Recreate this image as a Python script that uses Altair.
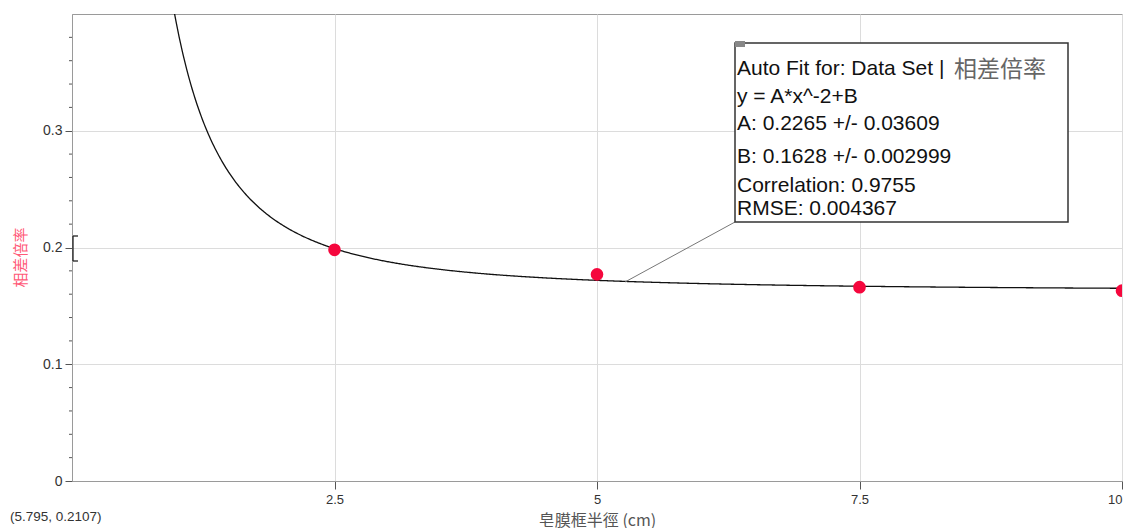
import altair as alt
import pandas as pd

# data
radius_cm = [2.5, 5, 7.5, 10]
ratio = [0.198, 0.177, 0.166, 0.163]
fit_A = 0.2265
fit_B = 0.1628
x_ticks = [2.5, 5, 7.5, 10]
y_major = [0, 0.1, 0.2, 0.3]
y_minor = [0.02, 0.04, 0.06, 0.08, 0.12, 0.14, 0.16, 0.18,
           0.22, 0.24, 0.26, 0.28, 0.32, 0.34, 0.36, 0.38]
box_lines = [
    "Auto Fit for: Data Set | ",
    "y = A*x^-2+B",
    "A: 0.2265 +/- 0.03609",
    "B: 0.1628 +/- 0.002999",
    "Correlation: 0.9755",
    "RMSE: 0.004367",
]
box_y = [61, 89, 116, 149, 178, 201]
FONT = "Liberation Sans"

pts = pd.DataFrame({"x": radius_cm, "y": ratio})
minor_df = pd.DataFrame({"y": y_minor})

xscale = alt.Scale(domain=[0, 10], nice=False, zero=False)
yscale = alt.Scale(domain=[0, 0.4], nice=False, zero=False)

xaxis = alt.Axis(
    values=x_ticks, format="~g", title="皂膜框半徑 (cm)",
    grid=True, gridColor="#dcdcdc", domainColor="#9a9a9a", tickColor="#555555",
    tickSize=8, labelFont=FONT, labelFontSize=13, labelColor="#333333",
    labelPadding=4, labelOverlap=False,
    titleFont="Noto Sans CJK TC", titleFontSize=16, titleFontWeight="normal",
    titleColor="#555555", titleY=31, titleBaseline="top",
)
yaxis = alt.Axis(
    values=y_major, format=".1~f", title="相差倍率",
    labelOverlap=False, labelFlush=False,
    grid=True, gridColor="#dcdcdc", tickSize=7,
    domainColor="#9a9a9a", tickColor="#555555",
    labelFont=FONT, labelFontSize=14, labelColor="#333333", labelPadding=3,
    titleFont="Noto Sans CJK TC", titleFontSize=15, titleFontWeight="normal",
    titleColor="#ff5a78", titleX=-52, titleY=243, titleAlign="center",
    titleBaseline="middle",
)

curve = (
    alt.Chart(alt.sequence(0.95, 10.01, 0.01, as_="x"))
    .transform_calculate(y=f"{fit_A}*pow(datum.x,-2)+{fit_B}")
    .mark_line(color="#111111", strokeWidth=1.3, clip=True)
    .encode(x=alt.X("x:Q", scale=xscale, axis=xaxis),
            y=alt.Y("y:Q", scale=yscale, axis=yaxis))
)

minor_ticks = (
    alt.Chart(minor_df)
    .mark_rule(color="#555555", strokeWidth=1)
    .encode(y=alt.Y("y:Q", scale=yscale), x=alt.value(-3), x2=alt.value(0))
)

points = (
    alt.Chart(pts)
    .mark_point(filled=True, size=160, color="#f5073d", opacity=1, clip=True)
    .encode(x=alt.X("x:Q", scale=xscale), y=alt.Y("y:Q", scale=yscale))
)

one = pd.DataFrame({"a": [0]})

# leader line from box to curve
leader = alt.Chart(one).mark_rule(color="#777777", strokeWidth=1).encode(
    x=alt.value(663), y=alt.value(208), x2=alt.value(553), y2=alt.value(268)
)
box = alt.Chart(one).mark_rect(fill="white", stroke="#333333", strokeWidth=1.5).encode(
    x=alt.value(663), x2=alt.value(996), y=alt.value(29), y2=alt.value(208)
)
icon = alt.Chart(one).mark_rect(fill="#888888").encode(
    x=alt.value(663), x2=alt.value(673), y=alt.value(27), y2=alt.value(33)
)
txt_df = pd.DataFrame({"t": box_lines, "py": box_y})
texts = alt.Chart(txt_df).mark_text(
    align="left", baseline="alphabetic", font=FONT, fontSize=21, color="#111111"
).encode(text="t:N", x=alt.value(665), y=alt.Y("py:Q", scale=None, axis=None))
title_cjk = alt.Chart(one).mark_text(
    align="left", baseline="alphabetic", font="Noto Sans CJK TC", fontSize=23, color="#666666"
).encode(text=alt.value("相差倍率"), x=alt.value(882), y=alt.value(63))

# examine bracket on y-axis
br_v = alt.Chart(one).mark_rule(color="#222222", strokeWidth=1.3).encode(
    x=alt.value(1), y=alt.value(222), y2=alt.value(247))
br_t = alt.Chart(one).mark_rule(color="#222222", strokeWidth=1.3).encode(
    x=alt.value(1), x2=alt.value(6), y=alt.value(222))
br_b = alt.Chart(one).mark_rule(color="#222222", strokeWidth=1.3).encode(
    x=alt.value(1), x2=alt.value(6), y=alt.value(247))

coord = alt.Chart(one).mark_text(
    align="left", baseline="middle", font=FONT, fontSize=13.5, color="#333333"
).encode(text=alt.value("(5.795, 0.2107)"), x=alt.value(-62), y=alt.value(503))

chart = (
    alt.layer(curve, minor_ticks, points, leader, box, icon, texts, title_cjk,
              br_v, br_t, br_b, coord)
    .properties(
        width=1050, height=467,
        autosize=alt.AutoSizeParams(type="none"),
        padding={"left": 64, "top": 6, "right": 1, "bottom": 50},
        background="white",
    )
    .configure_view(stroke="#9a9a9a", strokeWidth=1)
)

chart.save("out.html", embed_options={"renderer": "svg", "actions": False})
